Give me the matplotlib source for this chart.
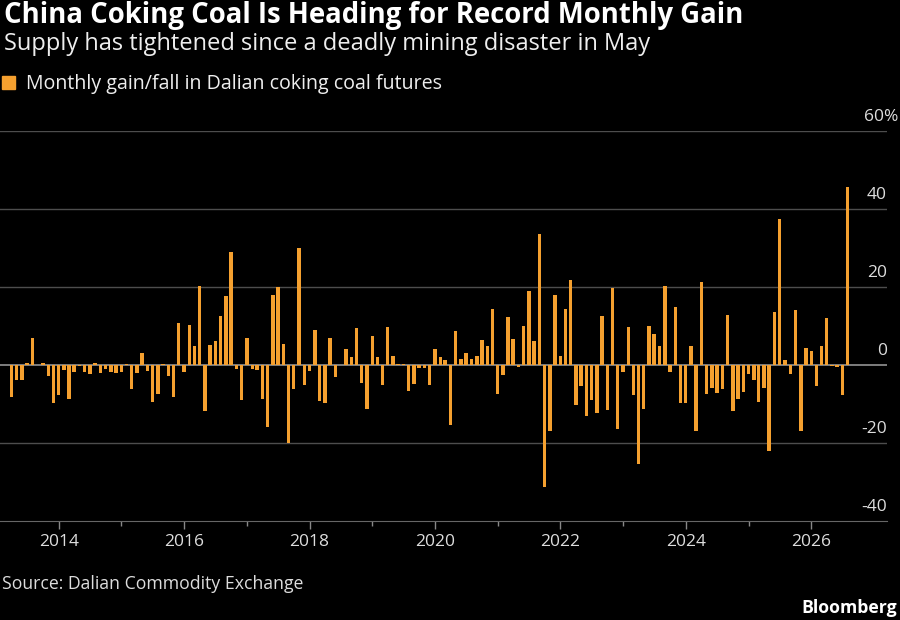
import matplotlib
matplotlib.use("Agg")
import matplotlib.pyplot as plt
import matplotlib.transforms as mtransforms
import pandas as pd

# monthly % change, Dalian coking coal futures
first_month = "2013-04-01"
chg_2013 = [-8.2, -3.8, -3.8, 0.5, 7.0, 0.1, 0.5, -2.7, -9.7]
chg_2014 = [-7.7, -1.4, -8.7, -1.8, -0.2, -1.8, -2.4, 0.6, -2.0, -1.0, -1.7, -2.0]
chg_2015 = [-1.7, 0.2, -6.2, -2.1, 3.1, -1.5, -9.4, -7.4, 0.3, -2.8, -8.3, 10.8]
chg_2016 = [-1.8, 10.3, 4.8, 20.3, -11.7, 5.2, 6.2, 12.5, 17.6, 29.1, -0.9, -9.1]
chg_2017 = [7.0, -0.9, -1.2, -8.8, -15.9, 17.9, 19.9, 5.5, -20.0, -6.2, 30.0, -5.0]
chg_2018 = [-1.5, 9.1, -9.3, -9.7, 7.0, -3.1, 0.1, 4.2, 2.0, 9.5, -4.5, -11.4]
chg_2019 = [7.5, 2.1, -5.0, 9.8, 2.4, 0.3, 0.3, -6.6, -4.9, -0.7, -0.7, -5.1]
chg_2020 = [4.1, 2.1, 1.4, -15.3, 8.6, 1.5, 3.2, 1.5, 2.4, 6.4, 5.0, 14.3]
chg_2021 = [-7.5, -2.5, 12.4, 6.7, -0.5, 9.9, 19.0, 6.1, 33.7, -31.2, -17.0, 17.9]
chg_2022 = [2.2, 14.4, 21.7, -10.3, -5.5, -13.0, -9.0, -12.3, 12.6, -11.5, 19.7, -16.5]
chg_2023 = [-1.7, 9.7, -7.6, -25.5, -11.4, 10.0, 8.0, 5.0, 20.2, -1.8, 15.0, -9.7]
chg_2024 = [-9.7, 5.0, -16.9, 21.3, -7.5, -5.8, -7.2, -6.2, 12.7, -11.9, -8.6, -6.8]
chg_2025 = [-2.2, -3.8, -9.6, -5.9, -22.1, 13.5, 37.4, 1.3, -2.2, 14.1, -17.0, 4.4]
chg_2026 = [3.5, -5.4, 5.0, 12.0, -0.2, -0.4, -7.8, 45.7]

y_ticks = [-40, -20, 0, 20, 40, 60]
year_labels = list(range(2014, 2027, 2))

values = (chg_2013 + chg_2014 + chg_2015 + chg_2016 + chg_2017 + chg_2018 + chg_2019
          + chg_2020 + chg_2021 + chg_2022 + chg_2023 + chg_2024 + chg_2025 + chg_2026)
dates = pd.date_range(first_month, periods=len(values), freq="MS")

ORANGE = "#f5a02f"
plt.rcParams["font.family"] = "Open Sans"

fig = plt.figure(figsize=(9, 6.2), dpi=100, facecolor="black")
ax = fig.add_axes([0, 1 - 521 / 620, 887 / 900, 390 / 620])
ax.set_facecolor("black")

for v in y_ticks[1:]:
    if v == 0:
        continue
    ax.axhline(v, color="#4d4d4d", lw=1.0, zorder=1)
ax.bar(dates, values, width=20, color=ORANGE, zorder=2)
ax.axhline(0, color="#a0a0a0", lw=1.1, zorder=1.5)

ax.set_ylim(-40, 60)
ax.set_xlim(pd.Timestamp("2013-01-24"), pd.Timestamp("2027-03-18"))
for s in ["top", "left", "right"]:
    ax.spines[s].set_visible(False)
ax.spines["bottom"].set_color("#666666")
ax.set_yticks([])

ax.set_xticks([pd.Timestamp(f"{y}-01-01") for y in year_labels])
ax.set_xticklabels([str(y) for y in year_labels])
ax.set_xticks([pd.Timestamp(f"{y}-01-01") for y in range(2015, 2026, 2)], minor=True)
ax.tick_params(axis="x", which="major", length=6, width=1, color="#888888",
               labelcolor="#dddddd", labelsize=12.5, pad=3)
ax.tick_params(axis="x", which="minor", length=3.5, width=1, color="#888888")

# right-side value labels sitting above the gridlines
trans = mtransforms.blended_transform_factory(fig.transFigure, ax.transData)
trans = mtransforms.offset_copy(trans, fig=fig, y=7, units="points")
for v in y_ticks:
    label = f"{v}%" if v == 60 else str(v)
    x = 898 / 900 if v == 60 else 887 / 900
    ax.text(x, v, label, transform=trans, ha="right", va="baseline",
            color="#dddddd", fontsize=12.5)

fig.text(4 / 900, 1 - 23 / 620, "China Coking Coal Is Heading for Record Monthly Gain",
         color="white", fontsize=19.8, fontweight="bold", va="baseline")
fig.text(4 / 900, 1 - 50 / 620, "Supply has tightened since a deadly mining disaster in May",
         color="#eeeeee", fontsize=17, va="baseline")
fig.patches.append(plt.Rectangle((2 / 900, 1 - 89 / 620), 12.5 / 900, 13 / 620,
                                 transform=fig.transFigure, color=ORANGE))
fig.text(26 / 900, 1 - 89.5 / 620, "Monthly gain/fall in Dalian coking coal futures",
         color="#eeeeee", fontsize=14.1, va="baseline")
fig.text(2 / 900, 1 - 589 / 620, "Source: Dalian Commodity Exchange",
         color="#dddddd", fontsize=12.7, va="baseline")
fig.text(897 / 900, 1 - 613 / 620, "Bloomberg", color="white", fontsize=12.7,
         fontweight="bold", ha="right", va="baseline")

fig.savefig("out.png", dpi=100, facecolor="black")
